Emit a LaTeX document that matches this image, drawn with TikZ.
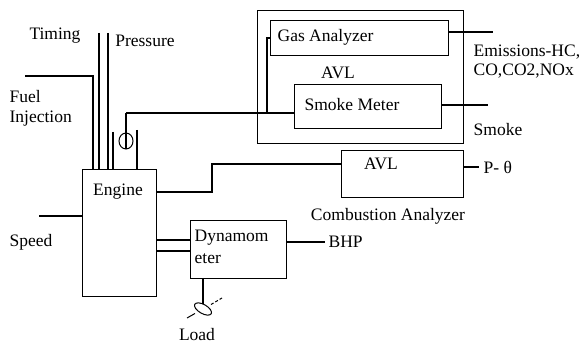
\documentclass[tikz,border=0pt]{standalone}
\usepackage{fontspec}
\setmainfont{Liberation Serif}
\begin{document}
\begin{tikzpicture}[x=1pt,y=-1pt,
  line width=1.3pt,
  every node/.style={font=\fontsize{17.5}{19}\selectfont, inner sep=0pt},
  blk/.style={draw, line width=1.3pt, anchor=north west},
  lbl/.style={anchor=west, align=left},
  clbl/.style={anchor=center, align=center}]
\useasboundingbox (0,0) rectangle (581,344);
% boxes
\node[blk, minimum width=206pt, minimum height=133pt] (avlout) at (257,10) {};
\node[blk, minimum width=178pt, minimum height=35pt] (gas) at (270,20) {};
\node[blk, minimum width=147pt, minimum height=44pt] (smoke) at (294,84) {};
\node[blk, minimum width=122pt, minimum height=47pt] (cavl) at (341,150) {};
\node[blk, minimum width=74pt, minimum height=127pt] (engine) at (82,169) {};
\node[blk, minimum width=96pt, minimum height=58pt] (dyno) at (190,220) {};
% box texts
\node[lbl] (gastxt) at (277,37) {Gas Analyzer};
\node[clbl] (avltxt) at (338,73) {AVL};
\node[lbl] (smoketxt) at (304,105) {Smoke Meter};
\node[clbl] (cavltxt) at (381,164) {AVL};
\node[clbl] (engtxt) at (118,192) {Engine};
\node[lbl] (dynotxt1) at (194,238) {Dynamom};
\node[lbl] (dynotxt2) at (194,259) {eter};
% outside labels
\node[clbl] (timing) at (55,36) {Timing};
\node[clbl] (pressure) at (145,41) {Pressure};
\node[lbl] (fuel1) at (9,97) {Fuel};
\node[lbl] (fuel2) at (9,119) {Injection};
\node[clbl] (speed) at (31,242) {Speed};
\node[lbl] (emis1) at (473,52) {Emissions-HC,};
\node[lbl] (emis2) at (473,71) {CO,CO2,NOx};
\node[lbl] (smokel) at (473,130) {Smoke};
\node[lbl] (ptheta) at (483,167) {P- θ};
\node[clbl] (comb) at (388,216) {Combustion Analyzer};
\node[lbl] (bhp) at (328,242) {BHP};
\node[clbl] (load) at (197,335) {Load};
% coordinates
\coordinate (timtop) at (99,33);
\coordinate (prestop) at (108,33);
\coordinate (fueltop) at (25,76);
\coordinate (fuelx) at (93,76);
\coordinate (ex1) at (113,132);
\coordinate (ex2) at (137,130);
\coordinate (probe) at (126,113);
\coordinate (branch) at (267,113);
\coordinate (emisend) at (493,32);
\coordinate (smokeend) at (488,105);
\coordinate (e1) at (156,192);
\coordinate (e2) at (212,192);
\coordinate (e3) at (212,164);
\coordinate (pend) at (479,167);
\coordinate (speedend) at (39,216);
\coordinate (s1) at (156,240);
\coordinate (s2) at (156,251);
\coordinate (bhpend) at (325,242);
\coordinate (loadtop) at (203,278);
\coordinate (loadc) at (203,309);
% connectors
\draw (timtop) -- (timtop |- engine.north);
\draw (prestop) -- (prestop |- engine.north);
\draw (fueltop) -- (fuelx) -- (fuelx |- engine.north);
\draw (ex1) -- (ex1 |- engine.north);
\draw (ex2) -- (ex2 |- engine.north);
\draw (probe) -- ++(0,36);
\draw[line width=1pt] (126,141) ellipse (7pt and 8pt);
\draw (probe) -- (probe -| smoke.west);
\draw (branch) |- (gas.west);
\draw (emisend -| gas.east) -- (emisend);
\draw (smokeend -| smoke.east) -- (smokeend);
\draw (e1) -- (e2) -- (e3) -- (e3 -| cavl.west);
\draw (pend -| cavl.east) -- (pend);
\draw (speedend) -- (speedend -| engine.west);
\draw (s1) -- (s1 -| dyno.west);
\draw (s2) -- (s2 -| dyno.west);
\draw (bhpend -| dyno.east) -- (bhpend);
\draw (loadtop) -- (203,304);
\draw[line width=1pt, rotate around={-30:(loadc)}] (loadc) ellipse (9.5pt and 4.5pt);
\draw[line width=1pt] (187,318) -- (195,313.5);
\draw[line width=1pt, dashed, dash pattern=on 3pt off 2pt] (211,304.5) -- (222,298);
\end{tikzpicture}
\end{document}
